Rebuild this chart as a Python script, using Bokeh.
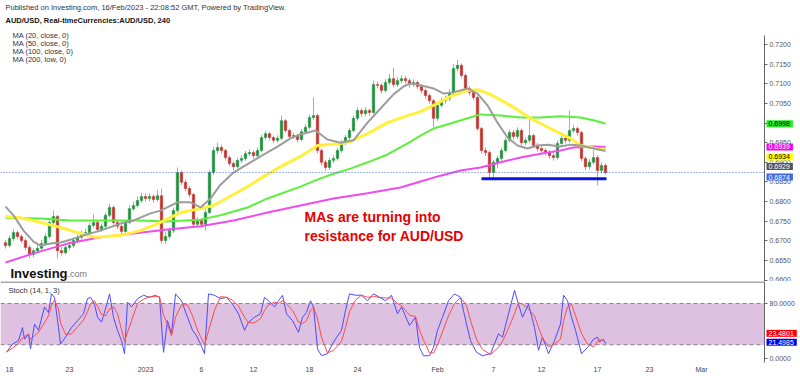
import numpy as np
from bokeh.plotting import figure
from bokeh.layouts import column
from bokeh.models import (Range1d, FixedTicker, PrintfTickFormatter, Span, Label,
                          BoxAnnotation, GridBox)
from bokeh.embed import file_html
from bokeh.resources import INLINE

FONT = "Liberation Sans"

# ---------------- data (4h AUD/USD candles) ----------------
first_open = 0.6695
close = [
    0.6688, 0.6706, 0.6721, 0.6711, 0.6701, 0.6683, 0.6665, 0.6675, 0.6681, 0.6693,
    0.6711, 0.6747, 0.6762, 0.6675, 0.6670, 0.6683, 0.6688, 0.6701, 0.6709, 0.6719,
    0.6721, 0.6739, 0.6747, 0.6729, 0.6737, 0.6765, 0.6785, 0.6747, 0.6737, 0.6724,
    0.6747, 0.6782, 0.6790, 0.6803, 0.6813, 0.6808, 0.6813, 0.6805, 0.6815, 0.6701,
    0.6711, 0.6726, 0.6777, 0.6874, 0.6849, 0.6833, 0.6818, 0.6742, 0.6752, 0.6742,
    0.6772, 0.6874, 0.6930, 0.6938, 0.6930, 0.6912, 0.6897, 0.6889, 0.6905, 0.6910,
    0.6922, 0.6925, 0.6917, 0.6930, 0.6963, 0.6973, 0.6963, 0.6956, 0.6961, 0.7006,
    0.6981, 0.6966, 0.6968, 0.6958, 0.6978, 0.6989, 0.7014, 0.7019, 0.6930, 0.6900,
    0.6887, 0.6905, 0.6910, 0.6930, 0.6950, 0.6963, 0.6981, 0.7012, 0.7032, 0.7024,
    0.7032, 0.7027, 0.7098, 0.7096, 0.7083, 0.7103, 0.7113, 0.7098, 0.7108, 0.7113,
    0.7108, 0.7098, 0.7103, 0.7093, 0.7083, 0.7070, 0.7057, 0.7012, 0.7045, 0.7057,
    0.7062, 0.7078, 0.7139, 0.7147, 0.7121, 0.7088, 0.7078, 0.7065, 0.6986, 0.6930,
    0.6925, 0.6874, 0.6900, 0.6910, 0.6930, 0.6956, 0.6976, 0.6966, 0.6981, 0.6950,
    0.6956, 0.6968, 0.6943, 0.6935, 0.6930, 0.6925, 0.6917, 0.6912, 0.6948, 0.6961,
    0.6956, 0.6981, 0.6986, 0.6976, 0.6910, 0.6889, 0.6900, 0.6912, 0.6879, 0.6892,
    0.6874]
high = [
    0.6702, 0.6714, 0.6730, 0.6727, 0.6716, 0.6706, 0.6689, 0.6681, 0.6690, 0.6702,
    0.6719, 0.6755, 0.6777, 0.6766, 0.6684, 0.6690, 0.6696, 0.6708, 0.6716, 0.6726,
    0.6731, 0.6745, 0.6768, 0.6752, 0.6745, 0.6772, 0.6795, 0.6790, 0.6753, 0.6742,
    0.6754, 0.6790, 0.6800, 0.6813, 0.6822, 0.6820, 0.6821, 0.6818, 0.6830, 0.6833,
    0.6722, 0.6734, 0.6785, 0.6887, 0.6880, 0.6856, 0.6840, 0.6822, 0.6760, 0.6758,
    0.6780, 0.6880, 0.6940, 0.6950, 0.6945, 0.6935, 0.6918, 0.6902, 0.6912, 0.6918,
    0.6929, 0.6933, 0.6930, 0.6938, 0.6970, 0.6980, 0.6977, 0.6968, 0.6969, 0.7019,
    0.7010, 0.6986, 0.6976, 0.6973, 0.6985, 0.6997, 0.7022, 0.7065, 0.7024, 0.6935,
    0.6906, 0.6912, 0.6918, 0.6937, 0.6957, 0.6970, 0.6988, 0.7020, 0.7040, 0.7038,
    0.7041, 0.7037, 0.7108, 0.7106, 0.7101, 0.7112, 0.7125, 0.7141, 0.7117, 0.7122,
    0.7120, 0.7114, 0.7111, 0.7108, 0.7098, 0.7088, 0.7075, 0.7062, 0.7052, 0.7064,
    0.7070, 0.7086, 0.7150, 0.7161, 0.7152, 0.7126, 0.7094, 0.7083, 0.7070, 0.6990,
    0.6938, 0.6930, 0.6906, 0.6917, 0.6937, 0.6963, 0.6984, 0.6982, 0.6989, 0.6986,
    0.6964, 0.7012, 0.6973, 0.6949, 0.6942, 0.6936, 0.6931, 0.6923, 0.6956, 0.6968,
    0.6966, 0.7032, 0.6995, 0.6991, 0.6980, 0.6915, 0.6908, 0.6930, 0.6918, 0.6900,
    0.6897]
low = [
    0.6680, 0.6683, 0.6700, 0.6704, 0.6694, 0.6676, 0.6656, 0.6658, 0.6670, 0.6677,
    0.6688, 0.6706, 0.6741, 0.6655, 0.6662, 0.6665, 0.6676, 0.6682, 0.6694, 0.6703,
    0.6712, 0.6715, 0.6733, 0.6722, 0.6723, 0.6732, 0.6760, 0.6741, 0.6730, 0.6716,
    0.6719, 0.6742, 0.6776, 0.6785, 0.6797, 0.6800, 0.6801, 0.6797, 0.6800, 0.6693,
    0.6692, 0.6704, 0.6720, 0.6772, 0.6842, 0.6826, 0.6810, 0.6735, 0.6736, 0.6734,
    0.6726, 0.6768, 0.6868, 0.6922, 0.6922, 0.6905, 0.6890, 0.6879, 0.6884, 0.6898,
    0.6904, 0.6915, 0.6908, 0.6911, 0.6925, 0.6957, 0.6955, 0.6949, 0.6950, 0.6956,
    0.6975, 0.6958, 0.6959, 0.6950, 0.6953, 0.6972, 0.6984, 0.7008, 0.6922, 0.6892,
    0.6879, 0.6881, 0.6898, 0.6904, 0.6924, 0.6944, 0.6957, 0.6976, 0.7006, 0.7016,
    0.7017, 0.7018, 0.7022, 0.7088, 0.7075, 0.7078, 0.7097, 0.7091, 0.7092, 0.7102,
    0.7100, 0.7090, 0.7092, 0.7086, 0.7075, 0.7062, 0.7049, 0.6989, 0.7005, 0.7039,
    0.7050, 0.7056, 0.7072, 0.7132, 0.7114, 0.7080, 0.7070, 0.7058, 0.6980, 0.6922,
    0.6916, 0.6858, 0.6860, 0.6885, 0.6904, 0.6925, 0.6950, 0.6958, 0.6960, 0.6943,
    0.6944, 0.6950, 0.6936, 0.6927, 0.6922, 0.6917, 0.6909, 0.6904, 0.6907, 0.6942,
    0.6948, 0.6950, 0.6975, 0.6968, 0.6902, 0.6880, 0.6882, 0.6895, 0.6841, 0.6872,
    0.6869]

# moving averages (bar index, value)
ma20_bar = [0, 2, 4.5, 7, 8.75, 11.25, 13.75, 16.25, 19.5, 23.75, 28.75, 32, 36.25, 38.75, 43,
            46.25, 48.75, 51.25, 53.75, 57, 61.25, 63.75, 68, 71.25, 73.75, 77.5, 80.5, 83.75,
            87, 90.5, 93.75, 97, 99.5, 101.25, 103.75, 107, 109.5, 112, 115.5, 118, 120.5,
            123, 125.5, 128, 130.5, 133, 135.5, 138.75, 141.25, 143.75, 147, 150]
ma20 = [0.6787, 0.6765, 0.6726, 0.6698, 0.6688, 0.6693, 0.6696, 0.6703, 0.6714, 0.6726,
        0.6744, 0.6752, 0.6770, 0.6777, 0.6798, 0.6798, 0.6785, 0.6808, 0.6843, 0.6874,
        0.6900, 0.6915, 0.6940, 0.6961, 0.6971, 0.6981, 0.6958, 0.6950, 0.6956, 0.7001,
        0.7037, 0.7073, 0.7093, 0.7101, 0.7096, 0.7088, 0.7075, 0.7078, 0.7088, 0.7075,
        0.7045, 0.7001, 0.6963, 0.6943, 0.6935, 0.6943, 0.6945, 0.6940, 0.6945, 0.6943,
        0.6935, 0.6929]
ma50_bar = [0, 3.75, 8.75, 13.75, 18.75, 22.5, 28.75, 33.75, 38.75, 43.75, 48.75, 52, 57,
            60.5, 63.75, 68.75, 73.75, 78, 83.75, 86.25, 90.5, 95.5, 100.5, 103.75, 107,
            111.25, 115.5, 118, 121.25, 126.25, 131.25, 136.25, 141.25, 143.75, 148.75, 150]
ma50 = [0.6762, 0.6759, 0.6747, 0.6734, 0.6719, 0.6709, 0.6714, 0.6726, 0.6747, 0.6772,
        0.6782, 0.6790, 0.6818, 0.6838, 0.6859, 0.6889, 0.6915, 0.6943, 0.6948, 0.6953,
        0.6973, 0.7001, 0.7019, 0.7029, 0.7045, 0.7068, 0.7083, 0.7085, 0.7073, 0.7045,
        0.7012, 0.6986, 0.6961, 0.6943, 0.6933, 0.6934]
ma100_bar = [0, 8.75, 16.25, 23.75, 33.75, 40, 45, 48.75, 53.75, 60.5, 65.5, 73.75, 78, 82,
             86.25, 90.5, 95.5, 100.5, 103.75, 107, 111.25, 115.5, 118.75, 123.75, 128.75,
             133.75, 138.75, 143.75, 147.5, 150]
ma100 = [0.6759, 0.6757, 0.6752, 0.6752, 0.6752, 0.6749, 0.6752, 0.6754, 0.6765, 0.6785,
         0.6808, 0.6838, 0.6856, 0.6871, 0.6884, 0.6900, 0.6920, 0.6948, 0.6968, 0.6986,
         0.6999, 0.7012, 0.7022, 0.7019, 0.7014, 0.7014, 0.7017, 0.7014, 0.7006, 0.6998]
ma200_bar = [0, 7, 15.5, 23.75, 32, 40.5, 48.75, 57, 65.5, 73.75, 82, 90.5, 98.75, 103.75,
             108.75, 113.75, 118.75, 123.75, 128.75, 133.75, 138.75, 142, 147, 150]
ma200 = [0.6645, 0.6668, 0.6693, 0.6709, 0.6719, 0.6729, 0.6737, 0.6752, 0.6772, 0.6790,
         0.6808, 0.6821, 0.6836, 0.6851, 0.6866, 0.6879, 0.6887, 0.6900, 0.6912, 0.6922,
         0.6930, 0.6938, 0.6940, 0.6939]

# stochastic (14, 1, 3)
stoch_bar = [0.25, 1.75, 3.25, 4.25, 4.75, 5.75, 6.25, 7.25, 8.25, 9.75,
             10.75, 11.5, 12.25, 13.25, 13.75, 15, 16.5, 18, 19.5, 20.5,
             21.25, 22.25, 23, 24, 25, 26, 27, 28, 29, 29.75,
             30.5, 31.5, 33, 34.5, 36, 37.5, 38.5, 39.5, 40.5, 41.5,
             42.5, 44, 45.5, 46.75, 47.75, 48.75, 49.75, 50.75, 52.25, 53.75,
             55.25, 56.75, 58.25, 59.75, 60.75, 62.25, 63.75, 64.75, 65.75, 67.25,
             68.25, 69.25, 70.25, 71.75, 73.25, 74.25, 75.25, 76.25, 77, 78,
             79, 80.5, 82, 84, 85, 86, 87.5, 89, 90.5, 92,
             93.5, 95, 96.5, 98, 99, 101, 102.5, 103.5, 104.5, 106,
             107, 108, 109.25, 110.75, 112.25, 113.75, 115.25, 116.25, 117.75, 119.25,
             121.25, 123.25, 124.25, 125.75, 127.25, 128.25, 129.25, 130.75, 132.25, 133.25,
             134.25, 135.75, 137.25, 138.75, 139.5, 140.5, 141.5, 142.5, 144, 145.5,
             147, 148, 148.5, 149.5, 150]
stoch_k = [9, 21, 26, 45, 28, 36, 14, 50, 41, 75,
           67, 94, 89, 45, 21, 31, 45, 55, 65, 87,
           89, 79, 60, 53, 72, 94, 60, 41, 26, 7,
           82, 75, 87, 92, 89, 92, 89, 9, 55, 36,
           94, 84, 60, 41, 33, 21, 7, 94, 92, 87,
           89, 79, 65, 41, 53, 60, 65, 89, 84, 75,
           84, 92, 65, 55, 38, 60, 67, 84, 75, 14,
           4, 7, 24, 41, 70, 94, 92, 92, 84, 94,
           89, 84, 92, 65, 75, 48, 60, 16, 4, 4,
           16, 41, 60, 84, 94, 89, 50, 26, 9, 4,
           7, 36, 31, 65, 99, 79, 60, 79, 45, 12,
           31, 7, 26, 50, 92, 84, 60, 41, 7, 16,
           28, 31, 24, 28, 21.4985]
stoch_d = [10, 15, 22, 30, 32, 35, 28, 33, 38, 52,
           62, 78, 85, 72, 52, 35, 36, 46, 56, 68,
           80, 84, 76, 64, 62, 72, 75, 65, 42, 25,
           38, 55, 80, 86, 90, 90, 90, 63, 50, 33,
           60, 78, 78, 62, 45, 32, 20, 40, 70, 90,
           89, 85, 76, 60, 52, 52, 58, 70, 78, 82,
           80, 84, 80, 70, 53, 51, 55, 70, 75, 58,
           31, 8, 12, 25, 45, 68, 85, 92, 89, 90,
           89, 88, 88, 80, 77, 63, 61, 41, 27, 8,
           8, 20, 39, 62, 80, 89, 77, 55, 28, 13,
           6, 16, 25, 44, 65, 81, 79, 72, 62, 45,
           30, 17, 21, 28, 55, 75, 79, 62, 36, 21,
           17, 25, 27, 26, 23.4801]

support_bars = [119, 150.25]
support_level = 0.6858

date_tick_bars = [1, 16, 35, 49, 62, 76, 88, 108, 122, 134, 148, 161, 174]
date_tick_labels = ["18", "23", "2023", "6", "12", "18", "24", "Feb", "7", "12", "17", "23", "Mar"]
price_ticks = [0.6600, 0.6650, 0.6700, 0.6750, 0.6800, 0.6850, 0.6900, 0.6950,
               0.7000, 0.7050, 0.7100, 0.7150, 0.7200]
stoch_ticks = [0, 80]

# ---------------- figure: price pane ----------------
n = len(close)
bars = np.arange(n)
cl = np.array(close)
op = np.array([first_open] + close[:-1])
hi = np.array(high)
lo = np.array(low)
up = cl >= op
dn = ~up

xr = Range1d(-1.25, 189.75)
PRICE_LO, PRICE_HI = 0.659648, 0.731204

p = figure(frame_width=764, frame_height=281, x_range=xr, y_range=Range1d(PRICE_LO, PRICE_HI),
           y_axis_location="right", x_axis_location=None, toolbar_location=None,
           output_backend="svg", min_border_left=0, min_border_right=36,
           min_border_top=0, min_border_bottom=0)
p.grid.visible = False
p.outline_line_color = None

ya = p.yaxis[0]
ya.ticker = FixedTicker(ticks=price_ticks)
ya.formatter = PrintfTickFormatter(format="%.4f")
ya.bounds = (0.6550, 0.7223)
ya.major_label_text_font = FONT
ya.major_label_text_font_size = "7px"
ya.major_label_text_color = "#555555"
ya.axis_line_color = "#666666"
ya.major_tick_line_color = "#666666"
ya.major_tick_out = 3
ya.major_tick_in = 0
ya.minor_tick_line_color = None
ya.major_label_standoff = 2

# candles
p.segment(x0=bars, y0=lo, x1=bars, y1=hi, line_color="#a4b0a6", line_width=1)
p.vbar(x=bars[up], bottom=op[up], top=cl[up], width=0.62,
       fill_color="#1f8f3c", line_color="#1f8f3c", line_width=0.5)
p.vbar(x=bars[dn], bottom=cl[dn], top=op[dn], width=0.62,
       fill_color="#c0322e", line_color="#c0322e", line_width=0.5)

# moving averages
p.line(ma200_bar, ma200, line_color="#ef4cef", line_width=2)
p.line(ma100_bar, ma100, line_color="#5cef3c", line_width=2)
p.line(ma50_bar, ma50, line_color="#fff03c", line_width=3)
p.line(ma20_bar, ma20, line_color="#9c9c9c", line_width=2)

# last price dotted line & support line
p.add_layout(Span(location=close[-1], dimension="width", line_color="#4a6cdc",
                  line_dash="1 2", line_width=1))
p.line(support_bars, [support_level, support_level], line_color="#1010e0", line_width=3)


def scr_label(fig, text, x, py, size, color="#222222", style="normal", fh=281, base="middle"):
    fig.add_layout(Label(x=x, y=fh - py, x_units="screen", y_units="screen", text=text,
                         text_font=FONT, text_font_size=size, text_color=color,
                         text_font_style=style, text_baseline=base, text_align="left"))


scr_label(p, "Published on Investing.com, 16/Feb/2023 - 22:08:52 GMT, Powered by TradingView.",
          5, 7, "7.5px", "#333333")
scr_label(p, "AUD/USD, Real-timeCurrencies:AUD/USD, 240", 5, 20, "7.5px", "#111111", "bold")
for i, t in enumerate(["MA (20, close, 0)", "MA (50, close, 0)", "MA (100, close, 0)", "MA (200, low, 0)"]):
    scr_label(p, t, 12, 35 + 8 * i, "7.5px", "#333333")

scr_label(p, "MAs are turning into", 304, 216, "14px", "#e60000", "bold", base="alphabetic")
scr_label(p, "resistance for AUD/USD", 304, 235, "14px", "#e60000", "bold", base="alphabetic")
scr_label(p, "Investing", 10, 273, "13px", "#111111", "bold", base="alphabetic")
scr_label(p, ".com", 67, 273, "9px", "#777777", base="alphabetic")

# ---------------- figure: stochastic pane ----------------
ST_LO, ST_HI = -5.82, 112.0
s = figure(frame_width=764, frame_height=81, x_range=xr, y_range=Range1d(ST_LO, ST_HI),
           y_axis_location="right", toolbar_location=None, output_backend="svg",
           min_border_left=0, min_border_right=36, min_border_top=0, min_border_bottom=14)
s.grid.visible = False
s.outline_line_color = None

sy = s.yaxis[0]
sy.ticker = FixedTicker(ticks=stoch_ticks)
sy.formatter = PrintfTickFormatter(format="%.4f")
sy.major_label_text_font = FONT
sy.major_label_text_font_size = "7px"
sy.major_label_text_color = "#555555"
sy.axis_line_color = "#666666"
sy.major_tick_line_color = "#666666"
sy.major_tick_out = 3
sy.major_tick_in = 0
sy.minor_tick_line_color = None
sy.major_label_standoff = 2

sx = s.xaxis[0]
sx.ticker = FixedTicker(ticks=date_tick_bars)
sx.major_label_overrides = {b: l for b, l in zip(date_tick_bars, date_tick_labels)}
sx.major_label_text_font = FONT
sx.major_label_text_font_size = "7px"
sx.major_label_text_color = "#444444"
sx.axis_line_color = None
sx.major_tick_line_color = None
sx.minor_tick_line_color = None
sx.major_tick_out = 0
sx.major_tick_in = 0
sx.major_label_standoff = 3

s.add_layout(BoxAnnotation(bottom=20, top=80, fill_color="#dec0e0", fill_alpha=1.0,
                           line_color=None, level="underlay"))
for lv in (20, 80):
    s.add_layout(Span(location=lv, dimension="width", line_color="#8a7f8a",
                      line_dash="4 3", line_width=1))
s.add_layout(Span(location=111.3, dimension="width", line_color="#8c8c8c", line_width=1.5))

s.line(stoch_bar, stoch_k, line_color="#4b4bff", line_width=1)
s.line(stoch_bar, stoch_d, line_color="#ff4b4b", line_width=1)

scr_label(s, "Stoch (14, 1, 3)", 8, 290 - 281, "7.5px", "#333333", fh=81)

# ---------------- transparent overlay carrying the value tags over the axes ----------------
# same price scale as the price pane, stretched over the full 800x376 canvas
px_per_price = 281 / (PRICE_HI - PRICE_LO)
q = figure(frame_width=800, frame_height=376, x_range=Range1d(-1.25, 198.75),
           y_range=Range1d(PRICE_HI - 376 / px_per_price, PRICE_HI),
           x_axis_location=None, y_axis_location=None, toolbar_location=None,
           output_backend="svg", min_border_left=0, min_border_right=0,
           min_border_top=0, min_border_bottom=0,
           background_fill_color=None, border_fill_color=None)
q.grid.visible = False
q.outline_line_color = None
# stochastic scale: ST_HI sits at canvas y=281, ST_LO at y=362
px_per_st = 81 / (ST_HI - ST_LO)
st_top = ST_HI + 281 / px_per_st
q.extra_y_ranges = {"stoch": Range1d(st_top - 376 / px_per_st, st_top)}


def value_box(val, off, bg, fg, rng="default"):
    q.add_layout(Label(x=766, x_units="screen", y=val, y_offset=off, y_range_name=rng,
                       text=f"{val:.4f}", text_font=FONT, text_font_size="7px",
                       text_color=fg, text_baseline="middle", text_align="left",
                       background_fill_color=bg,
                       padding=dict(left=2, right=3, top=1, bottom=1)))


value_box(ma100[-1], 0, "#22ee22", "#000000")
value_box(ma200[-1], 0, "#ee00ee", "#ffffff")
value_box(ma50[-1], -8, "#ffff00", "#000000")
value_box(ma20[-1], -15.5, "#555555", "#ffffff")
value_box(close[-1], -4.5, "#4169e1", "#ffffff")
value_box(stoch_d[-1], 9, "#ff0000", "#ffffff", "stoch")
value_box(stoch_k[-1], 1.5, "#0000ff", "#ffffff", "stoch")

panes = column(p, s, spacing=0)
layout = GridBox(children=[(panes, 0, 0), (q, 0, 0)])
open("out.html", "w").write(file_html(layout, INLINE, title="AUD/USD"))
